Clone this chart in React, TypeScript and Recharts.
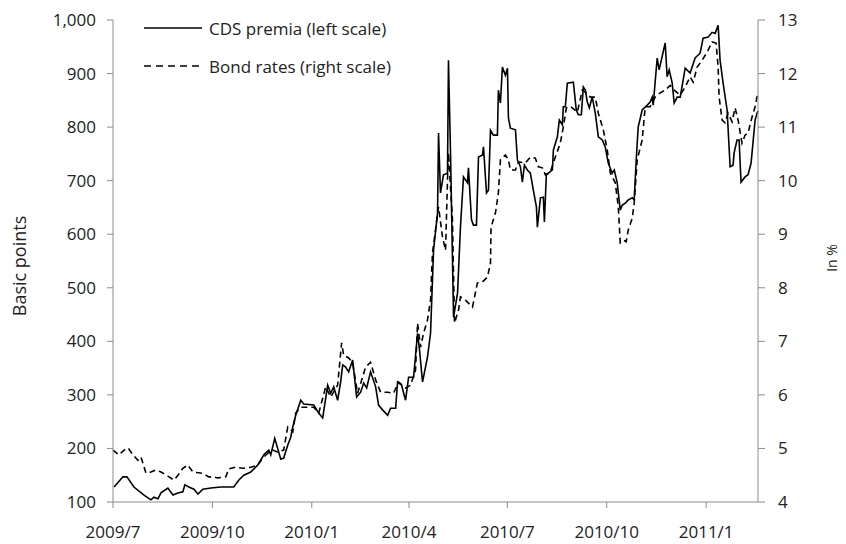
import React from 'react';
import { ComposedChart, Line, XAxis, YAxis, Legend } from 'recharts';

// x = days since 2009-07-01
const cdsDays = [1, 9.2, 12.9, 19.4, 28.7, 35.1, 37.9, 41.6, 44.4, 50.8, 55.5, 60.1, 64.7, 66.5, 70.2, 74.9, 78.6, 83.2, 90.6, 99.8, 111.8, 116.5, 121.1, 127.5, 134, 139.6, 144.2, 146, 149.7, 155.3, 158, 161.7, 164.5, 166.4, 169.1, 173.8, 176.5, 185.8, 190.4, 194.1, 198.7, 201.5, 204.3, 207.9, 210.7, 212.6, 215.3, 218.1, 221.8, 225.5, 229.2, 232, 234.8, 238.4, 243.1, 245.8, 249.5, 254.2, 256.9, 261.6, 263.4, 267.1, 270.8, 273.6, 278.2, 281.9, 283.7, 286.5, 291.1, 293.9, 296.7, 300.4, 301.3, 303.1, 305.9, 309.6, 310.5, 312.4, 315.2, 318.9, 321.6, 324.4, 328.1, 329, 331.8, 333.6, 336.4, 338.3, 342, 342.9, 345.7, 347.5, 349.4, 352.1, 355.8, 356.7, 358.6, 360.4, 363.2, 365.1, 366, 367.8, 372.5, 374.3, 377.1, 378.9, 380.8, 383.5, 386.3, 389.1, 391.9, 392.8, 395.6, 398.3, 399.3, 401.1, 406.7, 407.6, 411.3, 413.1, 415.9, 416.8, 418.7, 420.5, 426.1, 428.8, 430.7, 433.5, 435.3, 437.2, 439, 440.9, 443.6, 446.4, 449.2, 452.9, 455.6, 458.4, 462.1, 464, 466.7, 469.5, 471.3, 474.1, 476.9, 480.6, 482.4, 484.3, 486.1, 489.8, 494.5, 497.2, 499.1, 500, 503.7, 505.5, 511.1, 512.9, 514.8, 517.6, 519.4, 522.2, 525, 529.6, 534.2, 538.8, 543.4, 546.2, 550.8, 554.5, 557.3, 560.1, 561.9, 564.7, 568.4, 571.2, 573.9, 574.9, 577.6, 579.5, 581.3, 585, 587.8, 590.6, 594.3, 596.1, 597];
const cdsPremia = [128, 147, 147, 128, 113, 104, 109, 106, 117, 126, 113, 117, 119, 132, 128, 124, 115, 124, 126, 128, 128, 141, 150, 156, 169, 188, 197, 188, 219, 180, 182, 206, 221, 240, 262, 290, 283, 281, 266, 257, 318, 303, 315, 290, 324, 356, 352, 343, 365, 296, 305, 322, 313, 343, 315, 281, 272, 262, 275, 275, 324, 318, 290, 333, 333, 415, 384, 324, 371, 415, 570, 640, 789, 677, 711, 714, 925, 752, 445, 490, 613, 707, 696, 724, 627, 617, 617, 744, 748, 763, 677, 682, 794, 785, 785, 869, 845, 912, 897, 910, 817, 798, 795, 739, 726, 697, 729, 720, 714, 682, 651, 613, 668, 669, 623, 711, 720, 757, 782, 813, 804, 838, 838, 882, 884, 832, 823, 823, 875, 869, 847, 836, 856, 826, 782, 776, 763, 733, 714, 720, 696, 645, 654, 658, 664, 668, 664, 739, 800, 832, 841, 847, 856, 841, 929, 907, 957, 894, 907, 882, 845, 856, 856, 910, 901, 929, 938, 966, 968, 977, 975, 990, 925, 882, 832, 726, 729, 752, 776, 776, 697, 707, 711, 733, 813, 826, 830];

const bondDays = [0, 5.5, 10.2, 13.9, 18.5, 23.1, 25.9, 30.5, 35.1, 39.7, 44.4, 51.8, 56.4, 60.1, 64.7, 69.3, 73.9, 81.3, 86, 88.7, 93.3, 97, 104.4, 107.2, 113.7, 120.1, 127.5, 134, 138.6, 143.3, 147.9, 152.5, 158, 161.7, 166.4, 169.1, 173.8, 185.8, 190.4, 196.9, 201.5, 207.9, 211.6, 213.5, 218.1, 221.8, 226.4, 231, 233.8, 238.4, 243.1, 247.7, 254.2, 259.7, 264.3, 270.8, 275.4, 280, 281.9, 284.7, 287.4, 291.1, 293.9, 295.7, 301.3, 305, 307.8, 309.6, 310.5, 314.2, 316.1, 319.8, 321.6, 326.2, 332.7, 337.3, 342, 346.6, 349.4, 349.9, 354, 356.7, 358.6, 363.2, 366, 367.8, 372.5, 375.2, 381.7, 386.3, 390.9, 393.7, 397.4, 400.2, 404.8, 409.4, 414, 416.8, 419.6, 423.3, 429.8, 434.4, 438.1, 441.8, 446.4, 449.2, 453.8, 457.5, 460.3, 464.9, 467.7, 469.5, 472.3, 475, 476.9, 480.6, 482.4, 485.2, 489.8, 492.6, 497.2, 501.8, 506.5, 511.1, 515.7, 519.4, 525, 529.6, 534.2, 537, 540.7, 545.3, 549.9, 554.5, 558.2, 560.1, 561, 563.8, 566.5, 569.3, 573, 575.8, 578.6, 582.2, 585, 587.8, 591.5, 594.3, 597];
const bondRates = [4.97, 4.88, 4.97, 5.01, 4.88, 4.78, 4.84, 4.54, 4.56, 4.6, 4.56, 4.47, 4.41, 4.5, 4.63, 4.69, 4.56, 4.54, 4.5, 4.47, 4.47, 4.45, 4.47, 4.62, 4.65, 4.63, 4.65, 4.69, 4.82, 4.91, 4.97, 4.93, 4.97, 5.4, 5.31, 5.66, 5.77, 5.77, 5.66, 6.15, 5.96, 6.18, 6.97, 6.74, 6.69, 6.6, 6.03, 6.33, 6.52, 6.61, 6.28, 6.05, 6.05, 6.03, 6.24, 6.13, 6.18, 6.46, 7.34, 6.89, 7.15, 7.4, 7.77, 8.65, 9.51, 8.95, 8.7, 10.01, 10.52, 9.27, 7.34, 7.58, 7.83, 7.77, 7.64, 8.09, 8.11, 8.2, 8.46, 9.13, 9.4, 9.77, 10.39, 10.48, 10.39, 10.2, 10.2, 10.35, 10.33, 10.44, 10.42, 10.26, 10.24, 10.11, 10.16, 10.44, 10.7, 11.0, 11.36, 11.39, 11.28, 11.69, 11.64, 11.56, 11.56, 11.26, 10.95, 10.57, 10.14, 9.96, 9.51, 8.84, 8.89, 8.86, 9.08, 9.3, 9.58, 10.39, 10.76, 11.38, 11.38, 11.56, 11.64, 11.69, 11.78, 11.69, 11.6, 11.75, 11.94, 11.84, 12.12, 12.25, 12.4, 12.59, 12.57, 12.12, 11.56, 11.13, 11.08, 11.26, 11.1, 11.36, 11.13, 10.7, 10.85, 10.89, 11.19, 11.38, 11.66];

const xTickDays = [0, 92, 184, 274, 365, 457, 549];
const xTickLabels = ['2009/7', '2009/10', '2010/1', '2010/4', '2010/7', '2010/10', '2011/1'];
const leftTicks = [100, 200, 300, 400, 500, 600, 700, 800, 900, 1000];
const rightTicks = [4, 5, 6, 7, 8, 9, 10, 11, 12, 13];

const cdsData = cdsDays.map((x, i) => ({ x, cds: cdsPremia[i] }));
const bondData = bondDays.map((x, i) => ({ x, bond: bondRates[i] }));

const FONT = '"Open Sans", sans-serif';
const AXIS = '#8c8c8c';
const TXT = '#222';

const legendItems = [
  { label: 'CDS premia (left scale)', dash: undefined as string | undefined },
  { label: 'Bond rates (right scale)', dash: '7 5' },
];

const LegendContent = () => (
  <div style={{ fontFamily: FONT, fontSize: 17, color: TXT }}>
    {legendItems.map((it) => (
      <div key={it.label} style={{ display: 'flex', alignItems: 'center', height: 38, whiteSpace: 'nowrap' }}>
        <svg width={60} height={6} style={{ display: 'block' }}>
          <line x1={1} y1={3} x2={59} y2={3} stroke="#000" strokeWidth={1.5} strokeDasharray={it.dash} />
        </svg>
        <span style={{ marginLeft: 6 }}>{it.label}</span>
      </div>
    ))}
  </div>
);

const LeftLabel = (props: any) => {
  const vb = props.viewBox || { x: 0, y: 20, width: 113, height: 482 };
  const cx = vb.x + 19;
  const cy = vb.y + vb.height / 2 + 5;
  return (
    <text x={cx} y={cy} transform={`rotate(-90, ${cx}, ${cy})`} textAnchor="middle" dominantBaseline="central" fontFamily={FONT} fontSize={18} fill={TXT}>
      Basic points
    </text>
  );
};

const RightLabel = (props: any) => {
  const vb = props.viewBox || { x: 758, y: 20, width: 88, height: 482 };
  const cx = vb.x + 73;
  const cy = vb.y + vb.height / 2 - 3;
  return (
    <text x={cx} y={cy} transform={`rotate(-90, ${cx}, ${cy})`} textAnchor="middle" dominantBaseline="central" fontFamily={FONT} fontSize={14} fill={TXT}>
      In %
    </text>
  );
};

export default function App() {
  return (
    <div style={{ position: 'fixed', left: 0, top: 0, background: '#fff' }}>
      <ComposedChart width={846} height={544} margin={{ top: 20, right: 0, bottom: 0, left: 0 }}>
        <XAxis
          dataKey="x"
          type="number"
          domain={[0, 597]}
          ticks={xTickDays}
          interval={0}
          tickFormatter={(v: number) => xTickLabels[xTickDays.indexOf(v)] ?? ''}
          height={42}
          stroke={AXIS}
          tickSize={6}
          tickMargin={18}
          tick={{ fill: TXT, fontFamily: FONT, fontSize: 17 }}
          allowDuplicatedCategory={false}
        />
        <YAxis
          yAxisId="left"
          orientation="left"
          domain={[100, 1000]}
          ticks={leftTicks}
          interval={0}
          width={113}
          stroke={AXIS}
          tickSize={6}
          tickMargin={11}
          tickFormatter={(v: number) => v.toLocaleString('en-US')}
          tick={{ fill: TXT, fontFamily: FONT, fontSize: 17 }}
          label={{ content: LeftLabel }}
        />
        <YAxis
          yAxisId="right"
          orientation="right"
          domain={[4, 13]}
          ticks={rightTicks}
          interval={0}
          width={88}
          stroke={AXIS}
          tickSize={7}
          tickMargin={13}
          tick={{ fill: TXT, fontFamily: FONT, fontSize: 17 }}
          label={{ content: RightLabel }}
        />
        <Legend
          layout="vertical"
          align="center"
          verticalAlign="middle"
          wrapperStyle={{ left: 143, top: 9, width: 'auto' }}
          content={LegendContent}
        />
        <Line
          yAxisId="left"
          data={cdsData}
          dataKey="cds"
          name="CDS premia (left scale)"
          type="linear"
          stroke="#000"
          strokeWidth={1.6}
          dot={false}
          isAnimationActive={false}
        />
        <Line
          yAxisId="right"
          data={bondData}
          dataKey="bond"
          name="Bond rates (right scale)"
          type="linear"
          stroke="#000"
          strokeWidth={1.6}
          strokeDasharray="6 4"
          dot={false}
          isAnimationActive={false}
        />
      </ComposedChart>
    </div>
  );
}
